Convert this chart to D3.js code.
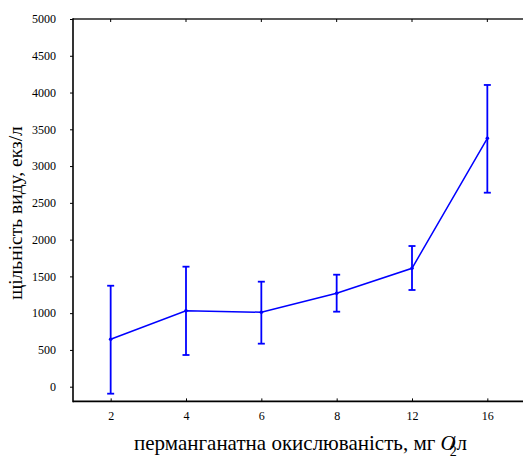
<!DOCTYPE html>
<html>
<head>
<meta charset="utf-8">
<script src="https://cdn.jsdelivr.net/npm/d3@7"></script>
<style>
  html, body { margin: 0; padding: 0; background: #fff; }
  svg { display: block; }
</style>
</head>
<body>
<svg id="chart" width="523" height="458"></svg>
<script>
// Permanganate oxidizability classes (mg O2/l)
const categories = ["2", "4", "6", "8", "12", "16"];
// Species density, ind./l: mean and confidence limits
const meanValues = [645, 1033, 1012, 1270, 1610, 3378];
const lowerValues = [-95, 431, 585, 1020, 1315, 2638];
const upperValues = [1373, 1632, 1428, 1523, 1913, 4103];
const yTicks = [0, 500, 1000, 1500, 2000, 2500, 3000, 3500, 4000, 4500, 5000];

const data = categories.map((c, i) => ({
  cat: c, mean: meanValues[i], lo: lowerValues[i], hi: upperValues[i]
}));

const serif = "'Liberation Serif', 'Tinos', 'Times New Roman', 'DejaVu Serif', serif";

const svg = d3.select("#chart");
const plotLeft = 73, plotRight = 525, plotTop = 19, plotBottom = 401.4;

const x = d3.scalePoint().domain(categories).range([plotLeft, plotRight]).padding(0.5);
const y = d3.scaleLinear().domain([-200, 5000]).range([plotBottom, plotTop]);

// Frame: left axis, bottom axis, top border (no right border)
svg.append("line").attr("x1", plotLeft).attr("x2", 523).attr("y1", plotTop).attr("y2", plotTop)
  .attr("stroke", "#222").attr("stroke-width", 1.6);
svg.append("line").attr("x1", plotLeft).attr("x2", 523).attr("y1", plotBottom).attr("y2", plotBottom)
  .attr("stroke", "#000").attr("stroke-width", 1.6);
svg.append("line").attr("x1", plotLeft).attr("x2", plotLeft).attr("y1", plotTop - 0.8).attr("y2", plotBottom + 0.8)
  .attr("stroke", "#000").attr("stroke-width", 1.6);

// Y axis ticks and labels
const yAxis = d3.axisLeft(y).tickValues(yTicks).tickSize(3).tickPadding(14).tickFormat(d3.format("d"));
const gy = svg.append("g").attr("transform", `translate(${plotLeft},0)`).call(yAxis)
  .attr("font-family", serif).attr("font-size", 12);
gy.select(".domain").remove();
gy.selectAll(".tick line").attr("stroke", "#000").attr("stroke-width", 1);
gy.selectAll(".tick text").attr("fill", "#000");

// X axis: inward ticks, labels below
const xAxis = d3.axisBottom(x).tickSize(-3).tickPadding(10);
const gx = svg.append("g").attr("transform", `translate(0,${plotBottom})`).call(xAxis)
  .attr("font-family", serif).attr("font-size", 12);
gx.select(".domain").remove();
gx.selectAll(".tick line").attr("stroke", "#000").attr("stroke-width", 1);
gx.selectAll(".tick text").attr("fill", "#000");

// Small inward ticks on the top border
svg.append("g").selectAll("line").data(categories).join("line")
  .attr("x1", d => x(d)).attr("x2", d => x(d))
  .attr("y1", plotTop).attr("y2", plotTop + 3)
  .attr("stroke", "#000").attr("stroke-width", 1);

const blue = "#0000ff";

// Mean line
svg.append("path").datum(data)
  .attr("fill", "none").attr("stroke", blue).attr("stroke-width", 1.5)
  .attr("d", d3.line().x(d => x(d.cat)).y(d => y(d.mean)));

// Error bars
const eb = svg.append("g").selectAll("g").data(data).join("g");
eb.append("line")
  .attr("x1", d => x(d.cat)).attr("x2", d => x(d.cat))
  .attr("y1", d => y(d.lo)).attr("y2", d => y(d.hi))
  .attr("stroke", blue).attr("stroke-width", 1.8);
eb.append("line")
  .attr("x1", d => x(d.cat) - 3.5).attr("x2", d => x(d.cat) + 3.5)
  .attr("y1", d => y(d.hi)).attr("y2", d => y(d.hi))
  .attr("stroke", blue).attr("stroke-width", 1.8);
eb.append("line")
  .attr("x1", d => x(d.cat) - 3.5).attr("x2", d => x(d.cat) + 3.5)
  .attr("y1", d => y(d.lo)).attr("y2", d => y(d.lo))
  .attr("stroke", blue).attr("stroke-width", 1.8);
eb.append("circle")
  .attr("cx", d => x(d.cat)).attr("cy", d => y(d.mean)).attr("r", 1.8)
  .attr("fill", blue);

// Axis titles
const xt = svg.append("text")
  .attr("x", 134).attr("y", 450)
  .attr("font-family", serif).attr("font-size", 21).attr("fill", "#000");
xt.append("tspan").text("перманганатна окислюваність, мг ");
xt.append("tspan").attr("font-style", "italic").text("O");
xt.append("tspan").attr("dx", -6).attr("dy", 6).attr("font-size", 14).text("2");
xt.append("tspan").attr("dx", -7).attr("dy", -6).text("/");
xt.append("tspan").attr("dx", 1).text("л");

svg.append("text")
  .attr("transform", "translate(22,213) rotate(-90)")
  .attr("text-anchor", "middle")
  .attr("font-family", serif).attr("font-size", 19.5).attr("fill", "#000")
  .text("щільність виду, екз/л");
</script>
</body>
</html>
